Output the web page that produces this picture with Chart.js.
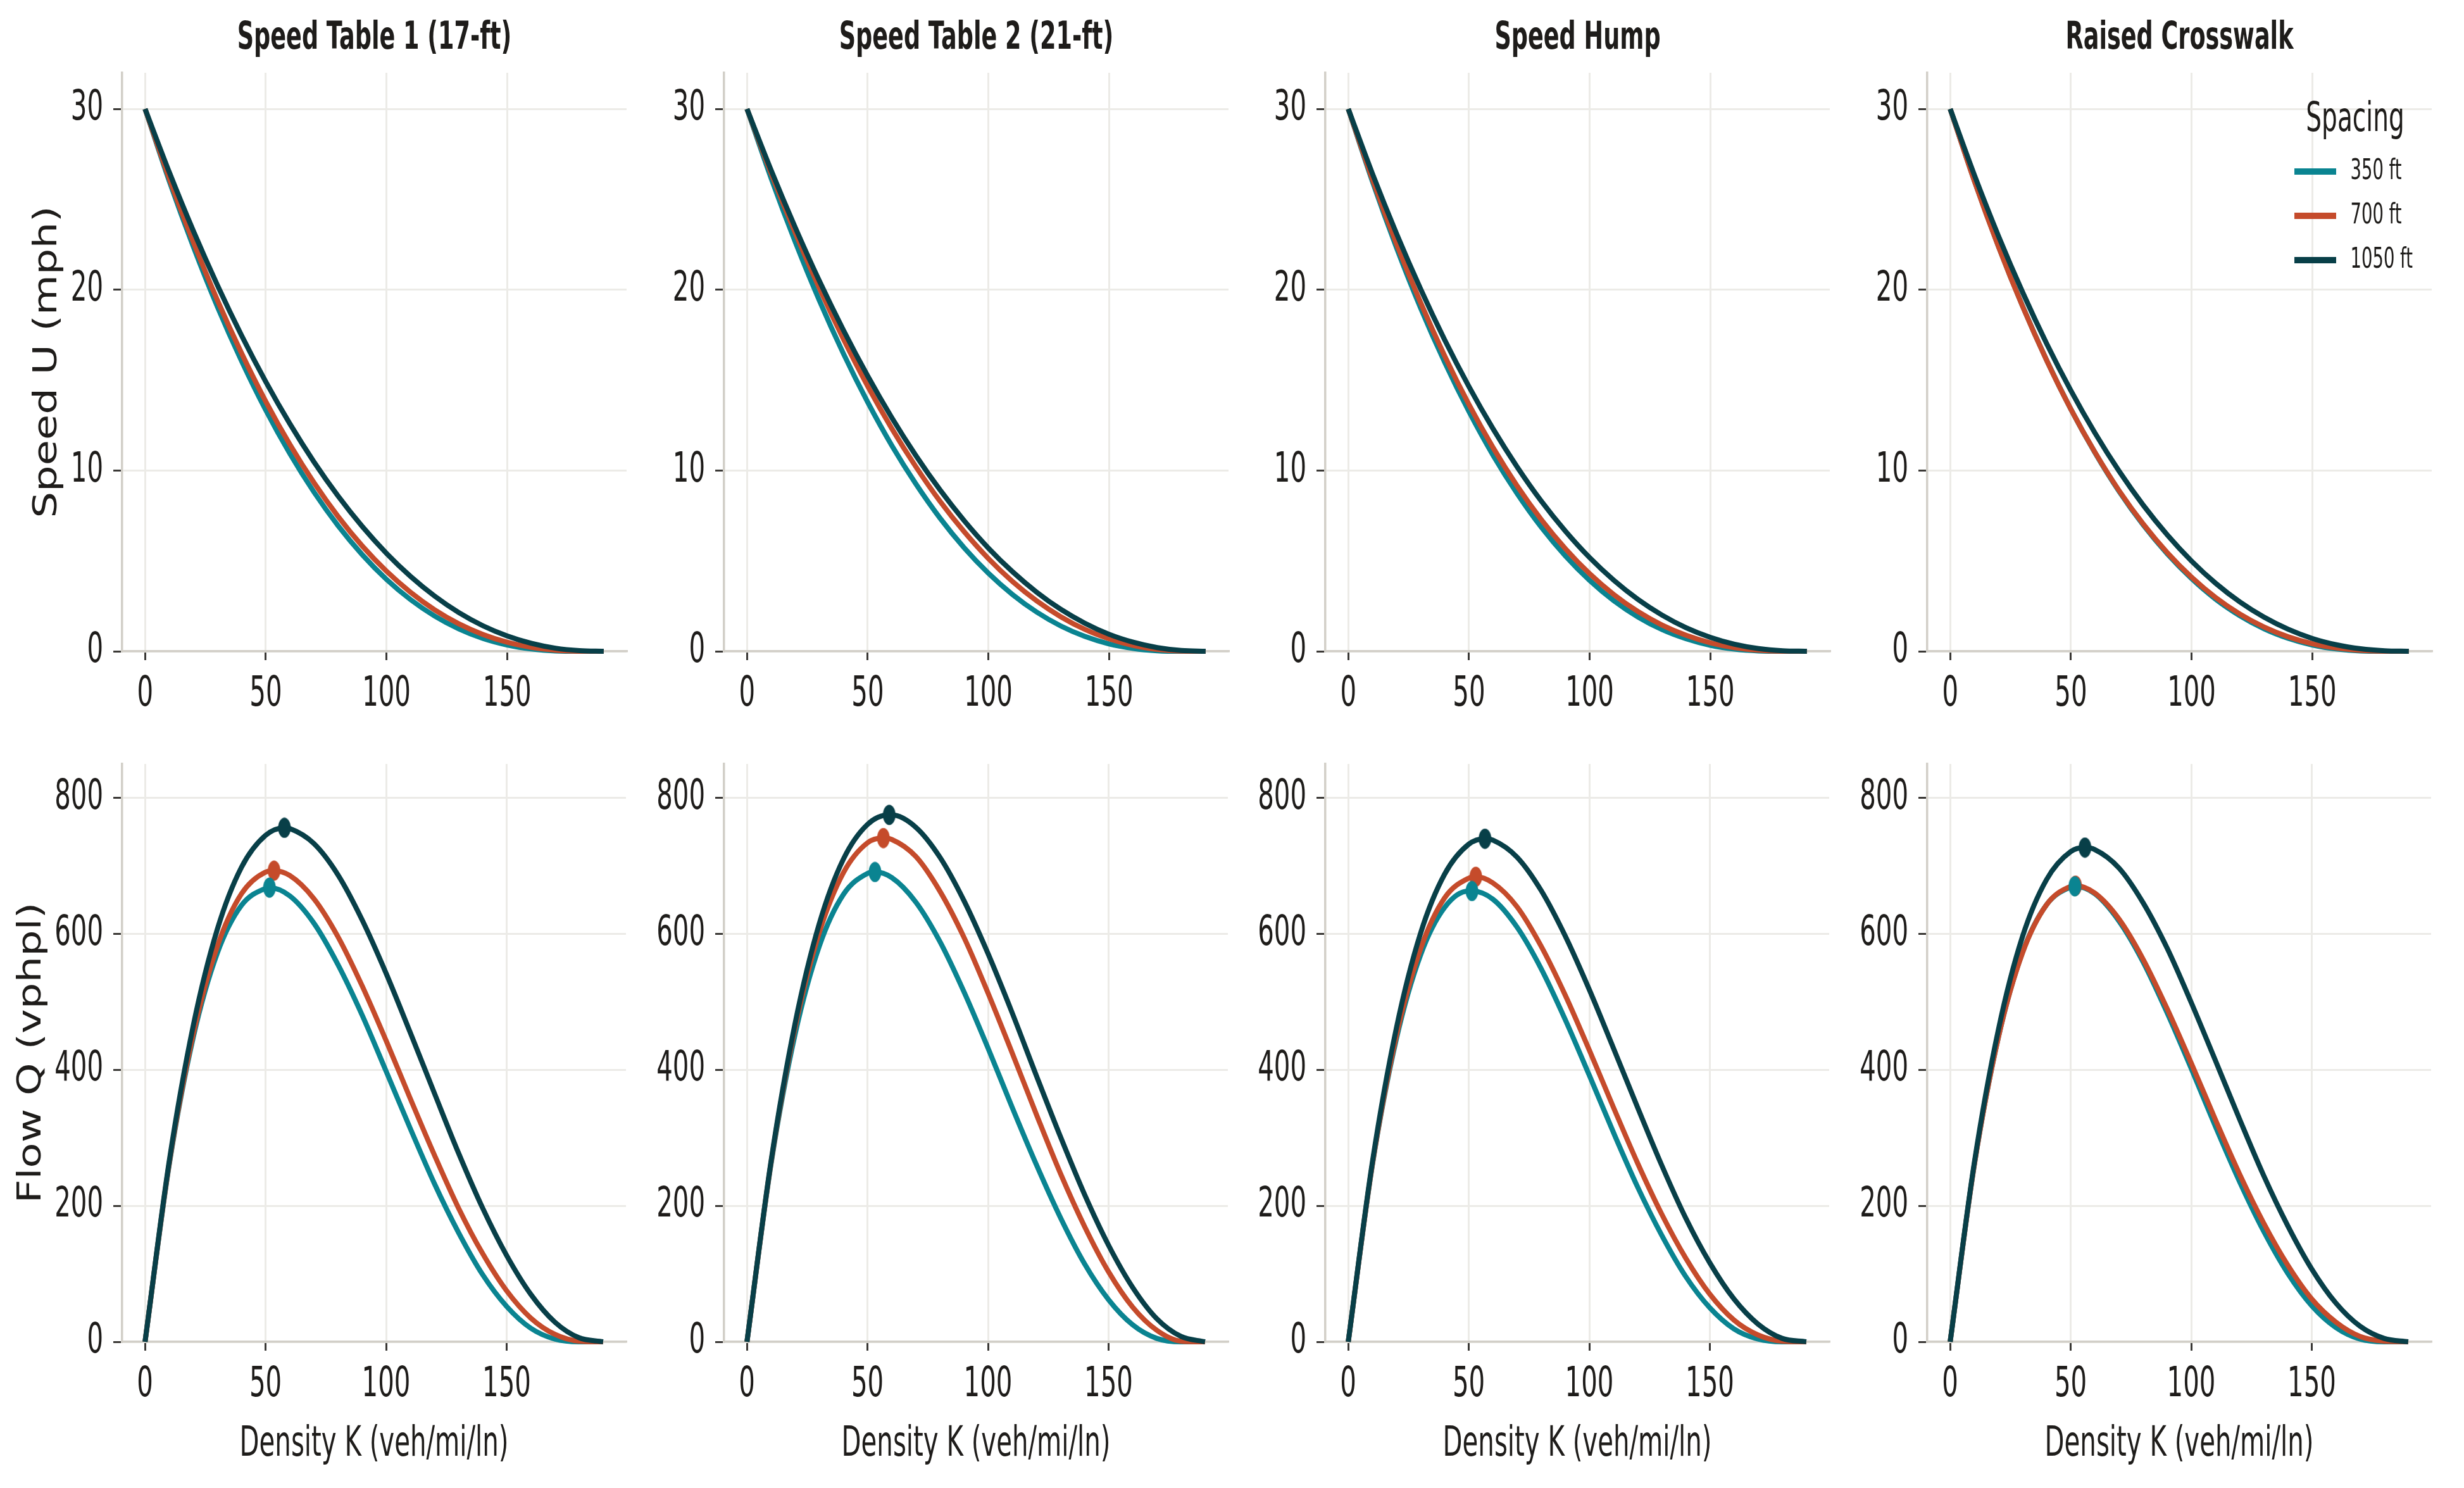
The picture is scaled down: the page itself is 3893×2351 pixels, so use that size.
<!DOCTYPE html>
<html>
<head>
<meta charset="utf-8">
<script src="https://cdn.jsdelivr.net/npm/chart.js@4.4.1/dist/chart.umd.min.js"></script>
<style>
  html, body { margin: 0; padding: 0; background: #ffffff; }
  body { width: 3893px; height: 2351px; position: relative; overflow: hidden; }
  canvas { position: absolute; }
</style>
</head>
<body>
<script>
// ---- data ----
const panelTitles = ['Speed Table 1 (17-ft)', 'Speed Table 2 (21-ft)', 'Speed Hump', 'Raised Crosswalk'];
const spacingLabels = ['350 ft', '700 ft', '1050 ft'];
const density = [0, 10, 20, 30, 40, 50, 60, 70, 80, 90, 100, 110, 120, 130, 140, 150, 160, 170, 180, 190];

// speed U (mph) per treatment and spacing
const speedST1_350  = [30, 26.02, 22.38, 19.05, 16.05, 13.34, 10.93, 8.80, 6.94, 5.34, 3.98, 2.86, 1.95, 1.24, 0.71, 0.35, 0.13, 0.02, 0, 0];
const speedST1_700  = [30, 26.17, 22.64, 19.41, 16.48, 13.82, 11.44, 9.32, 7.45, 5.82, 4.43, 3.26, 2.29, 1.52, 0.93, 0.50, 0.22, 0.06, 0.004, 0];
const speedST1_1050 = [30, 26.51, 23.25, 20.24, 17.46, 14.91, 12.58, 10.47, 8.58, 6.90, 5.42, 4.14, 3.05, 2.14, 1.41, 0.85, 0.44, 0.17, 0.035, 0];
const speedST2_350  = [30, 26.17, 22.64, 19.40, 16.45, 13.78, 11.38, 9.25, 7.36, 5.72, 4.32, 3.14, 2.17, 1.40, 0.82, 0.41, 0.16, 0.03, 0, 0];
const speedST2_700  = [30, 26.44, 23.14, 20.08, 17.26, 14.67, 12.32, 10.20, 8.29, 6.61, 5.13, 3.86, 2.79, 1.91, 1.21, 0.69, 0.32, 0.10, 0.008, 0];
const speedST2_1050 = [30, 26.61, 23.44, 20.48, 17.75, 15.23, 12.92, 10.82, 8.92, 7.22, 5.71, 4.40, 3.27, 2.32, 1.55, 0.94, 0.50, 0.20, 0.04, 0];
const speedSH_350   = [30, 25.99, 22.32, 18.98, 15.97, 13.26, 10.84, 8.72, 6.86, 5.27, 3.92, 2.80, 1.90, 1.20, 0.69, 0.33, 0.12, 0.02, 0, 0];
const speedSH_700   = [30, 26.11, 22.54, 19.28, 16.32, 13.65, 11.26, 9.14, 7.28, 5.67, 4.29, 3.14, 2.20, 1.45, 0.88, 0.47, 0.20, 0.06, 0.004, 0];
const speedSH_1050  = [30, 26.42, 23.10, 20.03, 17.21, 14.64, 12.30, 10.19, 8.30, 6.64, 5.18, 3.93, 2.87, 2.00, 1.30, 0.77, 0.39, 0.15, 0.03, 0];
const speedRC_350   = [30, 26.03, 22.40, 19.09, 16.09, 13.39, 10.98, 8.84, 6.98, 5.38, 4.02, 2.88, 1.97, 1.25, 0.72, 0.35, 0.13, 0.02, 0, 0];
const speedRC_700   = [30, 26.02, 22.38, 19.07, 16.08, 13.39, 11.00, 8.88, 7.04, 5.45, 4.10, 2.97, 2.06, 1.34, 0.80, 0.42, 0.18, 0.05, 0.003, 0];
const speedRC_1050  = [30, 26.35, 22.97, 19.86, 17.01, 14.42, 12.07, 9.96, 8.08, 6.43, 4.99, 3.76, 2.73, 1.89, 1.22, 0.71, 0.36, 0.14, 0.03, 0];

// flow Q (vphpl) per treatment and spacing
const flowST1_350  = [0, 260, 448, 572, 642, 667, 656, 616, 555, 481, 398, 314, 233, 161, 99, 52, 20, 4, 0, 0];
const flowST1_700  = [0, 262, 453, 582, 659, 691, 686, 652, 596, 524, 443, 358, 275, 197, 130, 75, 35, 11, 1, 0];
const flowST1_1050 = [0, 265, 465, 607, 698, 745, 755, 733, 687, 621, 542, 455, 366, 278, 197, 127, 70, 29, 6, 0];
const flowST2_350  = [0, 262, 453, 582, 658, 689, 683, 647, 589, 515, 432, 345, 261, 183, 115, 62, 25, 5, 0, 0];
const flowST2_700  = [0, 264, 463, 602, 690, 734, 739, 714, 663, 595, 513, 425, 335, 248, 170, 103, 51, 17, 1, 0];
const flowST2_1050 = [0, 266, 469, 615, 710, 761, 775, 757, 713, 649, 571, 484, 392, 302, 217, 142, 80, 34, 8, 0];
const flowSH_350   = [0, 260, 446, 569, 639, 663, 651, 610, 549, 474, 392, 308, 228, 157, 96, 50, 19, 4, 0, 0];
const flowSH_700   = [0, 261, 451, 578, 653, 682, 675, 640, 582, 510, 429, 345, 263, 188, 123, 70, 32, 10, 1, 0];
const flowSH_1050  = [0, 264, 462, 601, 688, 732, 738, 713, 664, 597, 518, 432, 345, 260, 182, 116, 63, 26, 5, 0];
const flowRC_350   = [0, 260, 448, 573, 643, 669, 659, 619, 559, 484, 402, 317, 236, 163, 101, 53, 21, 4, 0, 0];
const flowRC_700   = [0, 260, 448, 572, 643, 670, 660, 622, 563, 490, 410, 327, 247, 175, 113, 63, 29, 8, 1, 0];
const flowRC_1050  = [0, 263, 459, 596, 680, 721, 724, 697, 646, 579, 499, 414, 328, 245, 171, 107, 57, 23, 5, 0];

// capacity points (density, flow) marked on each flow curve: 350 / 700 / 1050 ft
const peakK_ST1 = [51.6, 53.5, 57.8];  const peakQ_ST1 = [668, 693, 756];
const peakK_ST2 = [53.1, 56.6, 59.0];  const peakQ_ST2 = [691, 741, 775];
const peakK_SH  = [51.3, 52.9, 56.7];  const peakQ_SH  = [663, 684, 740];
const peakK_RC  = [51.7, 52.0, 55.9];  const peakQ_RC  = [670, 671, 727];

const speedTickStep = 10;
const flowTickStep = 200;
const densityTickStep = 50;

// ---- look ----
const COLORS = ['#0a8491', '#c54b2b', '#083f48'];
const TEXT = '#1e1c1a';
const GRID = '#ecebe7';
const SPINE = '#d2cfc8';
const TICK = '#3a3835';
const SQUEEZE = 0.61;     // horizontal text is narrow in the reference
const ROT_STRETCH = 1.26; // rotated axis titles run long

const COL_LEFT = [193, 1144, 2094, 3045];
const PLOT_W = 797;
const ROWS = [
  { top: 115, bottom: 1029, canvasTop: 27, yW: 150, xH: 110 },
  { top: 1207, bottom: 2120, canvasTop: 1147, yW: 175, xH: 202 }
];

Chart.defaults.font.family = "'DejaVu Sans'";
Chart.defaults.color = TEXT;

const narrowText = {
  id: 'narrowText',
  beforeInit(chart) {
    const ctx = chart.ctx;
    const fill = ctx.fillText;
    ctx.fillText = function (text, x, y, maxWidth) {
      const m = this.getTransform();
      const sx = Math.abs(m.b) > 0.01 ? ROT_STRETCH : SQUEEZE;
      this.save();
      this.translate(x, y);
      this.scale(sx, 1);
      if (maxWidth === undefined) fill.call(this, text, 0, 0);
      else fill.call(this, text, 0, 0, maxWidth);
      this.restore();
    };
  }
};

// park the legend in the upper right of its panel
const legendSpot = {
  id: 'legendSpot',
  afterLayout(chart, args, opts) {
    const lg = chart.legend;
    if (!lg || opts.left === undefined) return;
    lg.left = opts.left;
    lg.top = opts.top;
    lg.width = opts.width;
    lg.right = opts.left + opts.width;
    lg.height = 400;
    lg.bottom = opts.top + 400;
  }
};

function ellipseMarker(color) {
  const c = document.createElement('canvas');
  c.width = 21;
  c.height = 33;
  const g = c.getContext('2d');
  g.fillStyle = color;
  g.beginPath();
  g.ellipse(10.5, 16.5, 10, 16, 0, 0, Math.PI * 2);
  g.fill();
  return c;
}

function curvePoints(values) {
  return density.map((x, i) => ({ x: x, y: values[i] }));
}

function flowPoints(values, k, q) {
  const pts = curvePoints(values);
  pts.push({ x: k, y: q });
  return pts.sort((a, b) => a.x - b.x);
}

const panels = [
  { speed: [speedST1_350, speedST1_700, speedST1_1050], flow: [flowST1_350, flowST1_700, flowST1_1050], pk: peakK_ST1, pq: peakQ_ST1 },
  { speed: [speedST2_350, speedST2_700, speedST2_1050], flow: [flowST2_350, flowST2_700, flowST2_1050], pk: peakK_ST2, pq: peakQ_ST2 },
  { speed: [speedSH_350, speedSH_700, speedSH_1050], flow: [flowSH_350, flowSH_700, flowSH_1050], pk: peakK_SH, pq: peakQ_SH },
  { speed: [speedRC_350, speedRC_700, speedRC_1050], flow: [flowRC_350, flowRC_700, flowRC_1050], pk: peakK_RC, pq: peakQ_RC }
];

function lineSet(i, data) {
  return {
    label: spacingLabels[i],
    data: data,
    borderColor: COLORS[i],
    backgroundColor: COLORS[i],
    borderWidth: 8,
    pointRadius: 0,
    cubicInterpolationMode: 'monotone',
    clip: false,
    order: 3 - i
  };
}

function makeChart(row, col) {
  const r = ROWS[row];
  const p = panels[col];
  const w = r.yW + PLOT_W + 10;
  const h = r.bottom - r.canvasTop + r.xH;
  const cv = document.createElement('canvas');
  cv.width = w;
  cv.height = h;
  cv.style.left = (COL_LEFT[col] - r.yW) + 'px';
  cv.style.top = r.canvasTop + 'px';
  cv.style.width = w + 'px';
  cv.style.height = h + 'px';
  document.body.appendChild(cv);

  const isSpeed = row === 0;
  const datasets = [];
  for (let i = 0; i < 3; i++) {
    datasets.push(lineSet(i, isSpeed ? curvePoints(p.speed[i]) : flowPoints(p.flow[i], p.pk[i], p.pq[i])));
  }
  if (!isSpeed) {
    for (let i = 0; i < 3; i++) {
      datasets.push({
        label: 'capacity ' + spacingLabels[i],
        data: [{ x: p.pk[i], y: p.pq[i] }],
        showLine: false,
        pointStyle: ellipseMarker(COLORS[i]),
        pointRadius: 10,
        clip: false,
        order: 0
      });
    }
  }

  const tickFont = { size: 66 };
  const showLegend = isSpeed && col === 3;
  const canvasLeft = COL_LEFT[col] - r.yW;

  new Chart(cv, {
    type: 'line',
    data: { datasets: datasets },
    plugins: [narrowText, legendSpot],
    options: {
      responsive: false,
      animation: false,
      events: [],
      layout: { padding: { top: isSpeed ? 0 : r.top - r.canvasTop, right: 10, left: 0, bottom: 0 } },
      scales: {
        x: {
          type: 'linear',
          min: -9.5,
          max: 199.5,
          afterFit: (s) => { s.height = r.xH; },
          ticks: { stepSize: densityTickStep, includeBounds: false, autoSkip: false, maxRotation: 0, font: tickFont, color: TEXT, padding: 15 },
          grid: { color: GRID, lineWidth: 3, tickColor: TICK, tickLength: 14, tickWidth: 3 },
          border: { display: true, color: SPINE, width: 3.5 },
          title: { display: !isSpeed, text: 'Density K (veh/mi/ln)', font: { size: 66 }, color: TEXT, padding: 0 }
        },
        y: {
          type: 'linear',
          min: 0,
          max: isSpeed ? 32 : 850,
          afterFit: (s) => { s.width = r.yW; },
          ticks: { stepSize: isSpeed ? speedTickStep : flowTickStep, includeBounds: false, font: tickFont, color: TEXT, padding: 16 },
          grid: { color: GRID, lineWidth: 3, tickColor: TICK, tickLength: 14, tickWidth: 3 },
          border: { display: true, color: SPINE, width: 3.5 },
          title: { display: col === 0, text: isSpeed ? 'Speed U (mph)' : 'Flow Q (vphpl)', font: { size: 52 }, color: TEXT, padding: { top: 1, bottom: 0 } }
        }
      },
      plugins: {
        tooltip: { enabled: false },
        title: {
          display: isSpeed,
          text: panelTitles[col],
          fullSize: false,
          font: { size: 60, weight: 'bold', lineHeight: 1 },
          color: TEXT,
          padding: { top: 4, bottom: r.top - r.canvasTop - 64 }
        },
        legend: {
          display: showLegend,
          position: 'chartArea',
          align: 'start',
          title: { display: true, text: 'Spacing', color: TEXT, font: { size: 64, lineHeight: 1 }, padding: { top: 0, bottom: 1.5 } },
          labels: {
            boxWidth: 66,
            boxHeight: 10,
            padding: 25,
            color: TEXT,
            font: { size: 45 },
            generateLabels: () => spacingLabels.map((t, i) => ({
              text: t, fillStyle: COLORS[i], strokeStyle: COLORS[i], lineWidth: 0, fontColor: TEXT, datasetIndex: i, hidden: false
            }))
          }
        },
        legendSpot: showLegend ? { left: 3600 - canvasLeft, top: 158 - r.canvasTop, width: 242 } : {}
      }
    }
  });
}

for (let row = 0; row < 2; row++) {
  for (let col = 0; col < 4; col++) makeChart(row, col);
}
</script>
</body>
</html>
